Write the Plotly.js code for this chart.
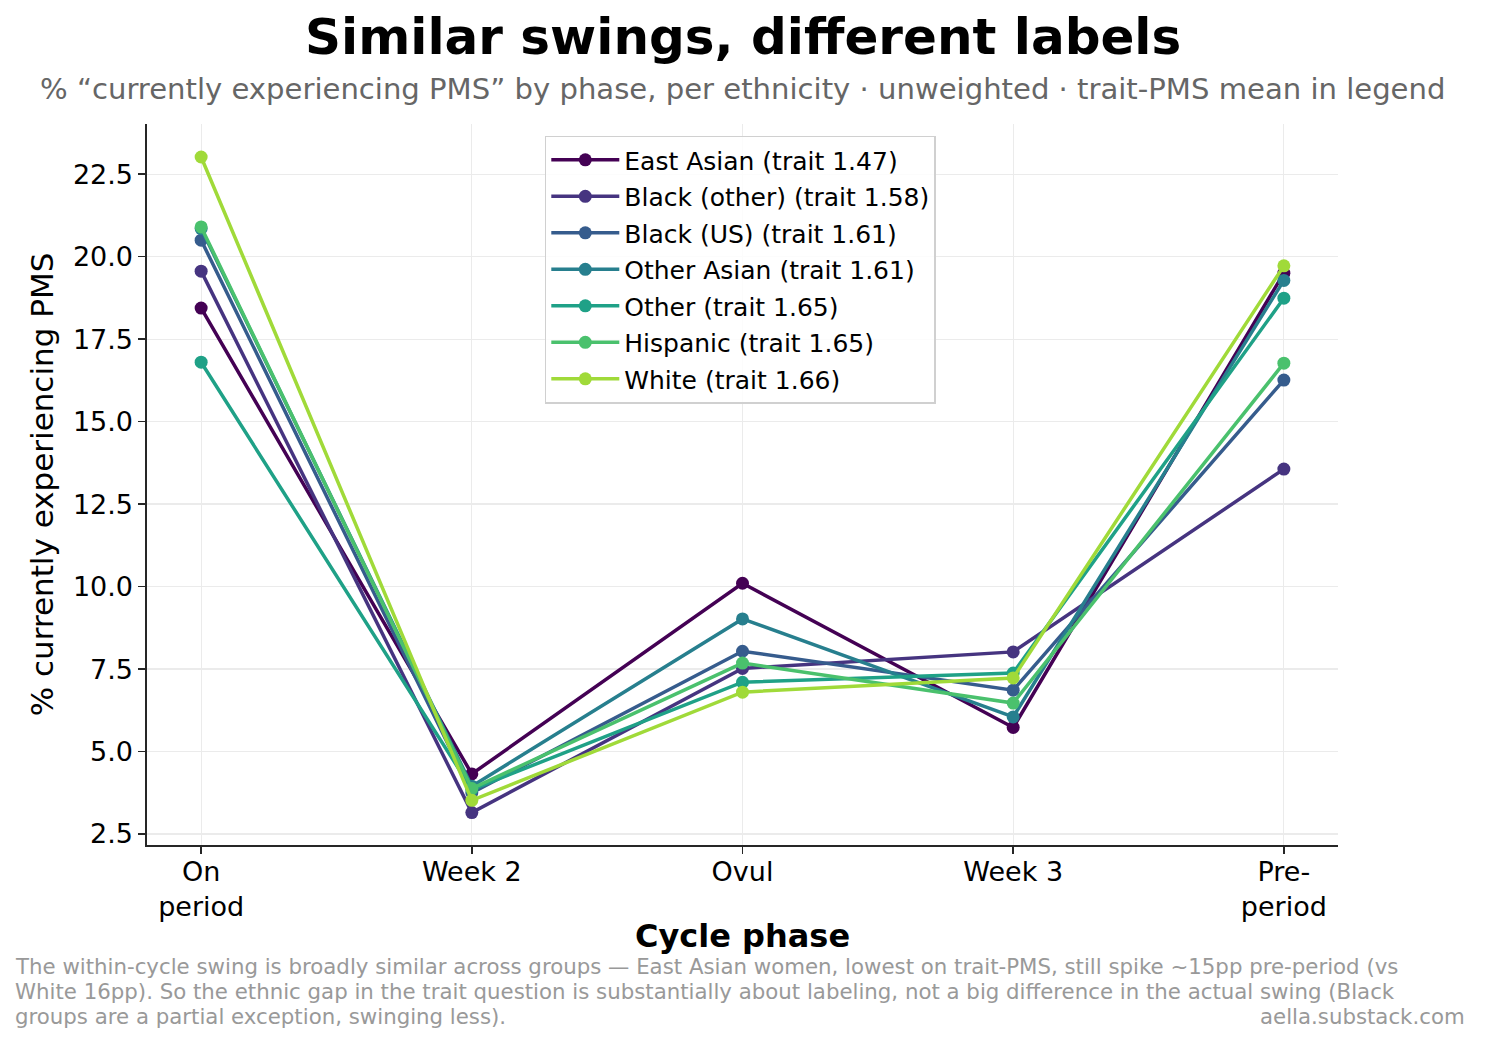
<!DOCTYPE html>
<html>
<head>
<meta charset="utf-8">
<script src="https://cdn.plot.ly/plotly-3.0.1.min.js"></script>
<style>html,body{margin:0;padding:0;background:#fff;}#chart{width:1485px;height:1043px;}</style>
</head>
<body>
<div id="chart"></div>
<script>
const phases = ["On<br>period", "Week 2", "Ovul", "Week 3", "Pre-<br>period"];
const groups = ["East Asian (trait 1.47)", "Black (other) (trait 1.58)", "Black (US) (trait 1.61)", "Other Asian (trait 1.61)", "Other (trait 1.65)", "Hispanic (trait 1.65)", "White (trait 1.66)"];
const eastAsian = [18.44, 4.32, 10.1, 5.73, 19.5];
const blackOther = [19.56, 3.15, 7.52, 8.02, 13.56];
const blackUS = [20.5, 3.75, 8.04, 6.86, 16.26];
const otherAsian = [20.85, 3.95, 9.02, 6.05, 19.28];
const other = [16.8, 3.85, 7.1, 7.38, 18.74];
const hispanic = [20.9, 3.88, 7.68, 6.47, 16.77];
const white = [23.02, 3.52, 6.8, 7.23, 19.72];
const colors = ["#440154", "#463480", "#365c8d", "#277f8e", "#1fa187", "#4ac16d", "#a0da39"];
const footerLines = [
  "The within-cycle swing is broadly similar across groups — East Asian women, lowest on trait-PMS, still spike ~15pp pre-period (vs",
  "White 16pp). So the ethnic gap in the trait question is substantially about labeling, not a big difference in the actual swing (Black",
  "groups are a partial exception, swinging less)."
];

const series = [eastAsian, blackOther, blackUS, otherAsian, other, hispanic, white];
const traces = series.map((vals, i) => ({
  type: "scatter",
  mode: "lines+markers",
  x: phases,
  y: vals,
  name: groups[i],
  legendgroup: "g" + i,
  line: {color: colors[i], width: 3.5},
  marker: {color: colors[i], size: 13}
}));

const font = "DejaVu Sans, sans-serif";
const footSize = 21.3;
const annotations = [
  {text: "<b>Similar swings, different labels</b>", xref: "paper", yref: "paper", x: 0.5, y: 1, yshift: 87, xanchor: "center", yanchor: "middle", showarrow: false, font: {size: 50, family: font, color: "#000"}},
  {text: "% “currently experiencing PMS” by phase, per ethnicity · unweighted · trait-PMS mean in legend", xref: "paper", yref: "paper", x: 0.5, y: 1, yshift: 35, xanchor: "center", yanchor: "middle", showarrow: false, font: {size: 29.1, color: "#666666", family: font}},
  {text: "aella.substack.com", xref: "paper", yref: "paper", x: 1.1083, y: 0, xanchor: "right", yanchor: "middle", yshift: -171, align: "right", showarrow: false, font: {size: footSize, color: "#999999", family: font}}
];
footerLines.forEach((t, i) => annotations.push({
  text: t, xref: "paper", yref: "paper", x: -0.1125, y: 0, xanchor: "left", yanchor: "middle",
  yshift: -121 - i * 25, align: "left", showarrow: false, font: {size: footSize, color: "#999999", family: font}
}));

const layout = {
  width: 1485, height: 1043,
  margin: {l: 147, r: 147, t: 124, b: 198},
  paper_bgcolor: "#fff", plot_bgcolor: "#fff",
  font: {family: font, color: "#000", size: 25},
  showlegend: true,
  legend: {
    x: 0.334, y: 0.984, xanchor: "left", yanchor: "top",
    bgcolor: "rgba(255,255,255,0.85)", bordercolor: "#d0d0d0", borderwidth: 1.5,
    font: {family: font, size: 25}, tracegroupgap: 1, itemwidth: 68
  },
  xaxis: {
    type: "category",
    range: [-0.2, 4.2],
    showgrid: true, gridcolor: "#ebebeb", gridwidth: 1.2,
    showline: true, linecolor: "#262626", linewidth: 1.6,
    ticks: "outside", ticklen: 7, tickcolor: "#262626", tickwidth: 1.6,
    tickfont: {size: 27}, zeroline: false, ticklabelstandoff: -5,
    title: {text: "<b>Cycle phase</b>", font: {size: 32}, standoff: 3}
  },
  yaxis: {
    range: [2.167, 24.02],
    tickvals: [2.5, 5, 7.5, 10, 12.5, 15, 17.5, 20, 22.5],
    ticktext: ["2.5", "5.0", "7.5", "10.0", "12.5", "15.0", "17.5", "20.0", "22.5"],
    showgrid: true, gridcolor: "#ebebeb", gridwidth: 1.2,
    showline: true, linecolor: "#262626", linewidth: 1.6,
    ticks: "outside", ticklen: 7, tickcolor: "#262626", tickwidth: 1.6,
    tickfont: {size: 27}, zeroline: false,
    title: {text: "% currently experiencing PMS", font: {size: 31}, standoff: 10}
  },
  annotations: annotations
};

Plotly.newPlot("chart", traces, layout, {displayModeBar: false, staticPlot: true});
</script>
</body>
</html>
